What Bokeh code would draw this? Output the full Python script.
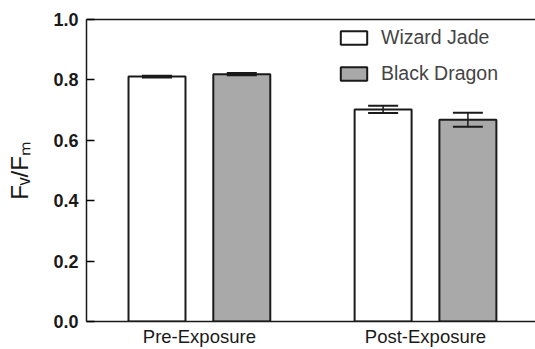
import math
from bokeh.plotting import figure
from bokeh.models import (Range1d, FixedTicker, LinearAxis, Whisker, TeeHead,
                          ColumnDataSource, Legend, LegendItem, NumeralTickFormatter)
from bokeh.embed import file_html
from bokeh.resources import INLINE

groups = ["Pre-Exposure", "Post-Exposure"]
cultivars = ["Wizard Jade", "Black Dragon"]
wizard_jade = [0.811, 0.702]
wizard_jade_err = [0.003, 0.012]
black_dragon = [0.819, 0.668]
black_dragon_err = [0.004, 0.023]
y_ticks = [0.0, 0.2, 0.4, 0.6, 0.8, 1.0]
colors = ["#ffffff", "#a9a9a9"]
y_label = "F\u1d65/F\u2098"

FONT = "Liberation Sans"
group_pos = [1, 2]
offset = 0.1875
bar_w = 0.252

p = figure(width=535, height=349, output_backend="svg", toolbar_location=None,
           x_range=Range1d(0.5007, 2.4865), y_range=Range1d(0, 1.0),
           min_border_left=86, min_border_right=0, min_border_top=19, min_border_bottom=28)
p.outline_line_color = None
p.grid.grid_line_color = None
p.background_fill_color = "white"
p.border_fill_color = "white"

renderers = []
errs = [wizard_jade_err, black_dragon_err]
for i, vals in enumerate([wizard_jade, black_dragon]):
    xs = [g + (-offset if i == 0 else offset) for g in group_pos]
    src = ColumnDataSource(dict(x=xs, top=vals,
                                upper=[v + e for v, e in zip(vals, errs[i])],
                                lower=[v - e for v, e in zip(vals, errs[i])]))
    r = p.vbar(x="x", top="top", width=bar_w, source=src, fill_color=colors[i],
               line_color="#1a1a1a", line_width=2)
    renderers.append(r)
    w = Whisker(base="x", upper="upper", lower="lower", source=src, level="overlay",
                line_color="#1a1a1a", line_width=1.5,
                upper_head=TeeHead(size=30, line_color="#1a1a1a", line_width=2),
                lower_head=TeeHead(size=30, line_color="#1a1a1a", line_width=2))
    p.add_layout(w)

legend = Legend(items=[LegendItem(label=cultivars[k], renderers=[renderers[k]]) for k in range(2)],
                location=(251, 236), padding=0, margin=0, spacing=13,
                glyph_width=33, glyph_height=17, label_height=22, label_standoff=11,
                label_text_font=FONT, label_text_font_size="19.5px",
                background_fill_alpha=0, border_line_color=None)
p.add_layout(legend)

# x axis
xa = p.xaxis[0]
xa.ticker = FixedTicker(ticks=group_pos)
xa.major_label_overrides = {g: name for g, name in zip(group_pos, groups)}
xa.major_tick_line_color = None
xa.major_tick_out = 0
xa.major_tick_in = 0
xa.minor_tick_line_color = None
xa.axis_line_width = 1.5
xa.axis_line_color = "#1a1a1a"
xa.major_label_text_font = FONT
xa.major_label_text_font_size = "18.5px"
xa.major_label_text_color = "#1a1a1a"
xa.major_label_standoff = 4

ya = p.yaxis[0]
ya.ticker = FixedTicker(ticks=y_ticks)
ya.formatter = NumeralTickFormatter(format="0.0")
ya.major_tick_in = 8
ya.major_tick_out = 0
ya.minor_tick_line_color = None
ya.axis_line_width = 1.5
ya.axis_line_color = "#1a1a1a"
ya.major_tick_line_width = 1.5
ya.major_label_text_font = FONT
ya.major_label_text_font_style = "bold"
ya.major_label_text_font_size = "18px"
ya.major_label_text_color = "#1a1a1a"
ya.major_label_standoff = 8
ya.axis_label = y_label
ya.axis_label_text_font = FONT
ya.axis_label_text_font_style = "normal"
ya.axis_label_text_font_size = "24px"
ya.axis_label_text_color = "#1a1a1a"
ya.axis_label_standoff = 17

top_axis = LinearAxis(ticker=FixedTicker(ticks=[]), major_label_text_font_size="0px",
                      axis_line_width=1.5, axis_line_color="#1a1a1a",
                      major_tick_line_color=None, minor_tick_line_color=None)
p.add_layout(top_axis, "above")

open("out.html", "w").write(file_html(p, INLINE))
